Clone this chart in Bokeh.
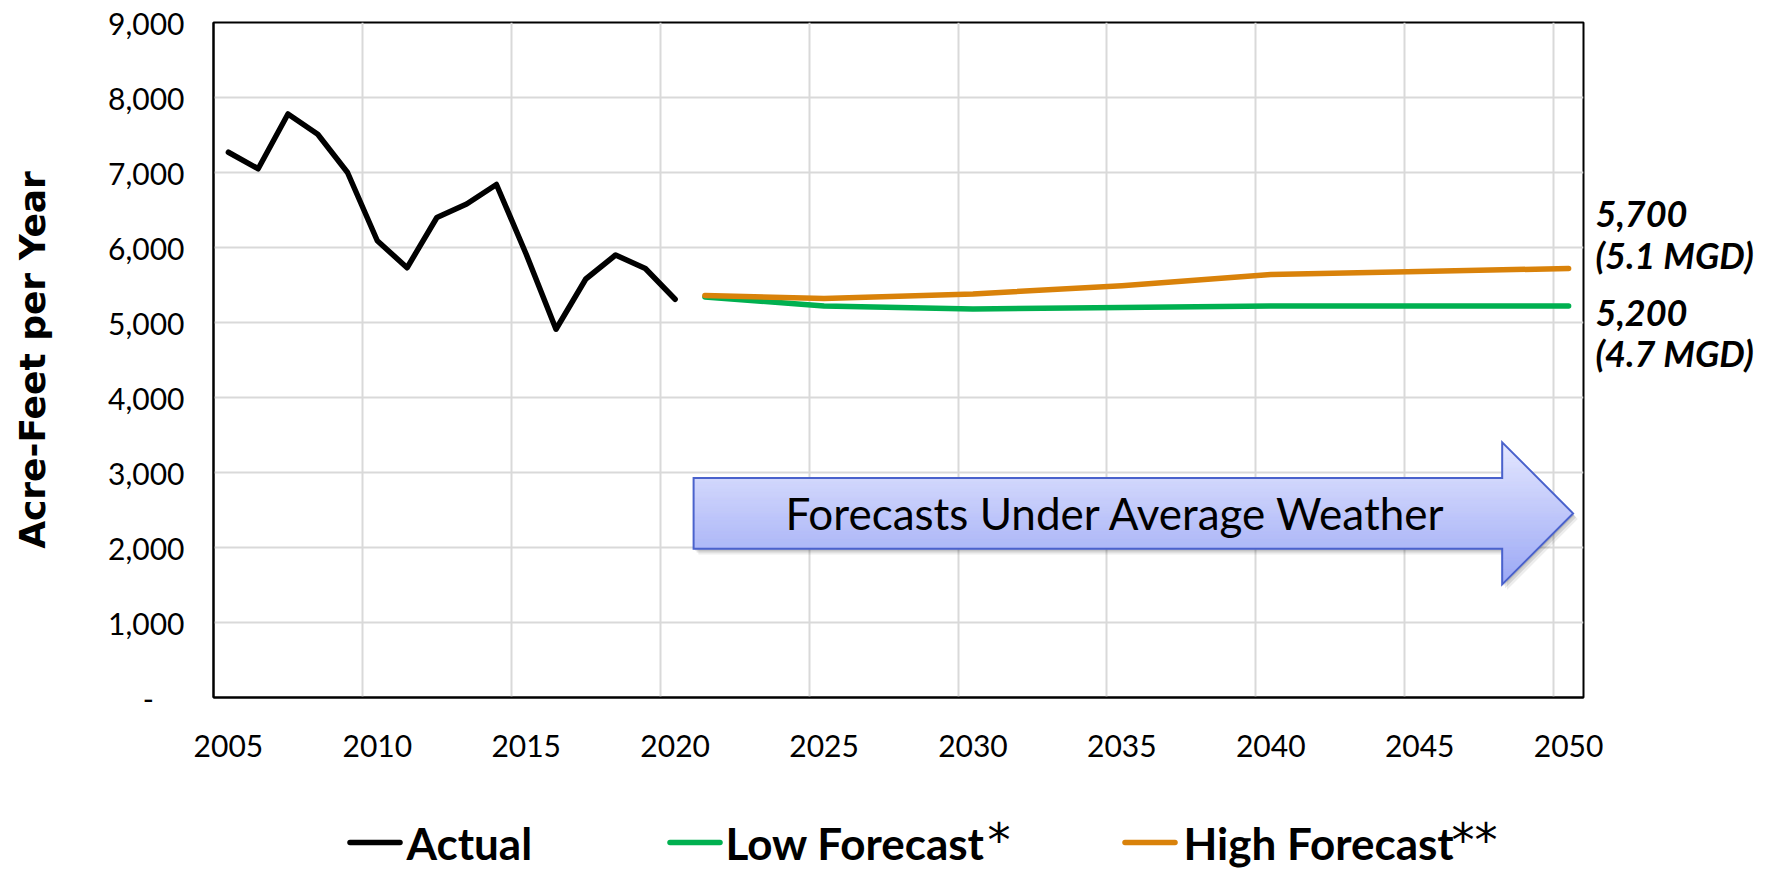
import numpy as np
from bokeh.plotting import figure
from bokeh.layouts import column
from bokeh.models import (FixedTicker, CustomJSTickFormatter, Label, LinearAxis,
                          Range1d)
from bokeh.core.properties import value
from bokeh.embed import file_html
from bokeh.resources import INLINE

# ---------------- data ----------------
actual_years = list(range(2005, 2021))
actual_values = [7270, 7050, 7780, 7510, 7000, 6090, 5730, 6400,
                 6580, 6840, 5910, 4910, 5580, 5900, 5720, 5310]
forecast_years = [2021, 2025, 2030, 2035, 2040, 2045, 2050]
low_values = [5340, 5220, 5180, 5200, 5220, 5220, 5220]
high_values = [5360, 5320, 5380, 5490, 5640, 5680, 5720]

x_label_years = [2005, 2010, 2015, 2020, 2025, 2030, 2035, 2040, 2045, 2050]
y_ticks = [0, 1000, 2000, 3000, 4000, 5000, 6000, 7000, 8000, 9000]

series_names = ["Actual", "Low Forecast", "High Forecast"]
series_marks = ["", "*", "**"]
series_colors = ["#000000", "#00B050", "#D9820A"]
end_texts = ["5,700", "(5.1 MGD)", "5,200", "(4.7 MGD)"]
arrow_text = "Forecasts Under Average Weather"
y_title = "Acre-Feet per Year"

# ---------------- styling / layout ----------------
FONT = "Lato"
CAT_CENTER = 0.5          # category axis: points sit at the centre of each year
x_act = [y + CAT_CENTER for y in actual_years]
x_fc = [y + CAT_CENTER for y in forecast_years]

BL, FW, BR = 213, 1370, 180
BT, FH, BB = 22, 675, 78
p = figure(frame_width=FW, frame_height=FH,
           min_border_left=BL, min_border_right=BR,
           min_border_top=BT, min_border_bottom=BB,
           x_range=Range1d(2005, 2051), y_range=Range1d(0, 9000),
           output_backend="svg", toolbar_location=None,
           background_fill_color="white", border_fill_color="white")

p.outline_line_color = "black"
p.outline_line_width = 2

# axes
xax = p.xaxis[0]
yax = p.yaxis[0]
xax.ticker = FixedTicker(ticks=[y + CAT_CENTER for y in x_label_years])
xax.formatter = CustomJSTickFormatter(code="return String(Math.round(tick - 0.5));")
yax.ticker = FixedTicker(ticks=y_ticks)
yax.formatter = CustomJSTickFormatter(
    code="return tick === 0 ? '-\u00a0\u00a0\u00a0\u00a0' : tick.toLocaleString('en-US');")
for ax in (xax, yax):
    ax.axis_line_color = "black"
    ax.axis_line_width = 2
    ax.major_tick_line_color = None
    ax.minor_tick_line_color = None
    ax.major_tick_out = 0
    ax.minor_tick_out = 0
    ax.major_label_text_font = FONT
    ax.major_label_text_font_size = "30px"
    ax.major_label_text_color = "black"
xax.major_label_standoff = 37
yax.major_label_standoff = 29
yax.axis_label = y_title
yax.axis_label_text_font = "DejaVu Sans"
yax.axis_label_text_font_size = "36px"
yax.axis_label_text_font_style = "bold"
yax.axis_label_text_color = "black"
yax.axis_label_standoff = 52

# grid
p.xgrid.ticker = FixedTicker(ticks=x_label_years)
p.ygrid.ticker = FixedTicker(ticks=y_ticks)
for g in (p.xgrid, p.ygrid):
    g.grid_line_color = "#D9D9D9"
    g.grid_line_width = 2

# ---------------- arrow annotation ----------------
AX0, AXB, AXT = 2021.12, 2048.27, 2050.65
AYC, AHB, AHH = 2455, 473, 947
arrow = [(AX0, AYC + AHB), (AXB, AYC + AHB), (AXB, AYC + AHH), (AXT, AYC),
         (AXB, AYC - AHH), (AXB, AYC - AHB), (AX0, AYC - AHB)]


def clip_band(poly, lo, hi):
    def clip(points, keep, yv):
        out = []
        for i in range(len(points)):
            cur, prev = points[i], points[i - 1]

            def inter(a, b):
                t = (yv - a[1]) / (b[1] - a[1])
                return (a[0] + t * (b[0] - a[0]), yv)
            if keep(cur):
                if not keep(prev):
                    out.append(inter(prev, cur))
                out.append(cur)
            elif keep(prev):
                out.append(inter(prev, cur))
        return out
    pts = clip(poly, lambda q: q[1] >= lo, lo)
    if pts:
        pts = clip(pts, lambda q: q[1] <= hi, hi)
    return pts


# shadow
for dx, dy, a in [(0.16, -75, 0.07), (0.10, -50, 0.10), (0.05, -25, 0.10)]:
    p.patch([q[0] + dx for q in arrow], [q[1] + dy for q in arrow],
            fill_color="black", fill_alpha=a, line_color=None)

top_c = np.array([228, 231, 255])
bot_c = np.array([155, 168, 245])
N = 90
edges = np.linspace(AYC - AHH, AYC + AHH, N + 1)
xs, ys, cols = [], [], []
for i in range(N):
    pts = clip_band(arrow, edges[i], edges[i + 1])
    if len(pts) < 3:
        continue
    f = (i + 0.5) / N          # 0 at bottom, 1 at top
    c = bot_c + (top_c - bot_c) * f
    col = "#%02x%02x%02x" % tuple(int(round(v)) for v in c)
    xs.append([q[0] for q in pts])
    ys.append([q[1] for q in pts])
    cols.append(col)
p.patches(xs, ys, fill_color=cols, line_color=cols, line_width=1)
p.patch([q[0] for q in arrow], [q[1] for q in arrow], fill_alpha=0,
        line_color="#4A62CC", line_width=2, line_join="miter")

p.add_layout(Label(x=2035.3, y=AYC, text=arrow_text, text_align="center",
                   text_baseline="middle", text_font=FONT,
                   text_font_size="44px", text_color="black"))

# ---------------- series ----------------
p.line(x_act, actual_values, line_color=series_colors[0], line_width=5.5,
       line_join="round", line_cap="round")
p.line(x_fc, low_values, line_color=series_colors[1], line_width=5.5,
       line_join="round", line_cap="round")
p.line(x_fc, high_values, line_color=series_colors[2], line_width=5.5,
       line_join="round", line_cap="round")

# ---------------- end-of-line labels (right-hand axis) ----------------
end_y = [6463, 5903, 5143, 4596]
rax = LinearAxis(ticker=FixedTicker(ticks=end_y),
                 formatter=CustomJSTickFormatter(
                     args=dict(t=end_y, s=end_texts),
                     code="const i = t.indexOf(tick); return i >= 0 ? s[i] : '';"),
                 axis_line_color=None, major_tick_line_color=None,
                 minor_tick_line_color=None, major_tick_out=0, minor_tick_out=0,
                 major_label_standoff=12,
                 major_label_text_font=FONT, major_label_text_font_size="36px",
                 major_label_text_font_style="bold italic",
                 major_label_text_color="black")
p.add_layout(rax, "right")

# ---------------- legend strip (x in page pixels) ----------------
LEG_H = 93
LEG_TOP = BT + FH + BB          # page y of the strip's top edge
lg = figure(frame_width=FW, frame_height=LEG_H,
            min_border_left=BL, min_border_right=BR,
            min_border_top=0, min_border_bottom=0,
            x_range=Range1d(BL, BL + FW), y_range=Range1d(LEG_TOP + LEG_H, LEG_TOP),
            output_backend="svg", toolbar_location=None,
            outline_line_color=None,
            background_fill_color="white", border_fill_color="white")
lg.axis.visible = False
lg.grid.visible = False

leg_line_x0 = [349.5, 669.5, 1124.5]
leg_line_len = 50
leg_text_x = [406, 725, 1183]
leg_mark_x = [0, 987, 1451]
leg_y = 842          # page y of the legend row centre
mark_base_y = 839    # page y of the asterisk baseline
lg.segment(x0=leg_line_x0, x1=[x + leg_line_len for x in leg_line_x0],
           y0=[leg_y] * 3, y1=[leg_y] * 3, line_color=series_colors,
           line_width=5.5, line_cap="round")
lg.text(x=leg_text_x, y=[leg_y] * 3, text=series_names,
        text_font=value(FONT), text_font_size="44px", text_font_style="bold",
        text_baseline="middle", text_align="left", text_color="black")
mk_idx = [i for i, m in enumerate(series_marks) if m]
lg.text(x=[leg_mark_x[i] for i in mk_idx], y=[mark_base_y] * len(mk_idx),
        text=[series_marks[i] for i in mk_idx],
        text_font=value("DejaVu Sans"), text_font_size="46px",
        text_baseline="alphabetic", text_align="left", text_color="black")

layout = column(p, lg, spacing=0)
open("out.html", "w").write(file_html(layout, INLINE))
